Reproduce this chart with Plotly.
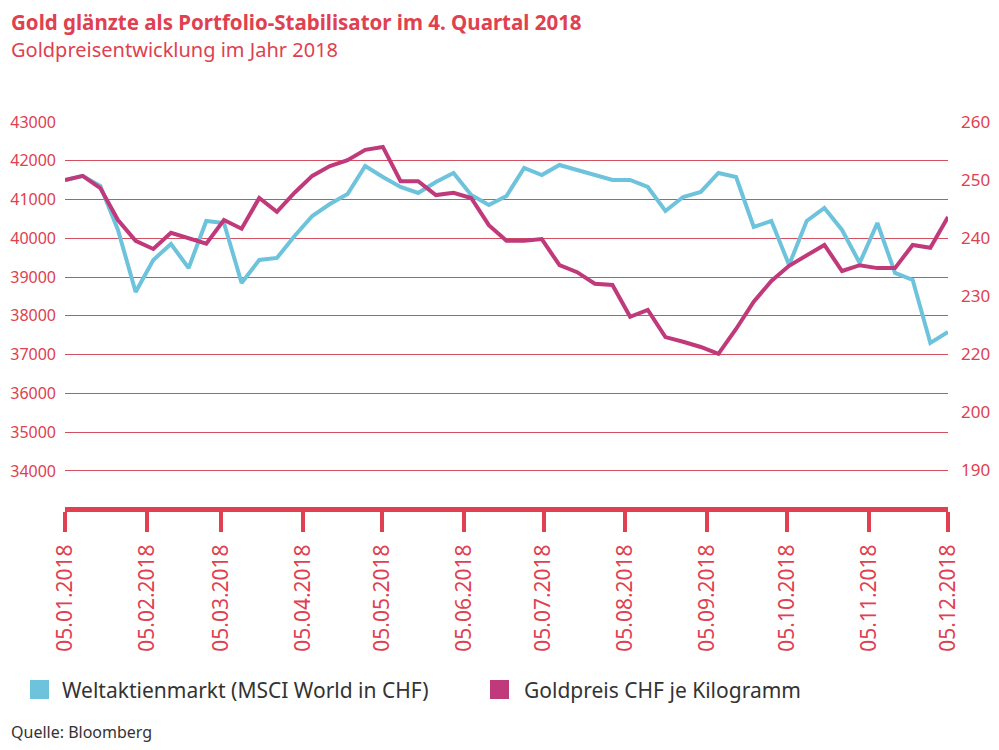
import plotly.graph_objects as go
import pandas as pd

msci = [41504,41607,41349,40215,38616,39441,39854,39235,40447,40395,
        38848,39441,39493,40060,40576,40885,41143,41865,41582,41324,
        41169,41453,41685,41117,40859,41092,41814,41633,41891,41762,
        41633,41504,41504,41324,40705,41066,41195,41685,41582,40292,
        40447,39312,40447,40782,40215,39364,40395,39106,38925,37300,37584]
gold = [250.0,250.7,248.6,243.1,239.5,238.1,240.9,240.0,239.0,243.1,
        241.6,246.9,244.5,247.8,250.7,252.4,253.4,255.2,255.7,249.8,
        249.8,247.4,247.8,246.9,242.2,239.5,239.5,239.8,235.3,234.1,
        232.1,231.9,226.4,227.6,222.9,222.1,221.2,220.0,224.3,229.0,
        232.6,235.2,237.1,238.8,234.3,235.3,234.8,234.8,238.8,238.3,243.6]
dates = pd.date_range("2018-01-05", "2018-12-05", periods=len(msci))
tick_dates = pd.date_range("2018-01-05", periods=12, freq=pd.DateOffset(months=1))
tick_text = [d.strftime("%d.%m.%Y") for d in tick_dates]
left_ticks = list(range(34000, 43001, 1000))
left_text = [str(v) for v in left_ticks]
right_vals = [260, 250, 240, 230, 220, 210, 200]
right_text = ["260", "250", "240", "230", "220", "200", "190"]
legend_names = ["Weltaktienmarkt (MSCI World in CHF)", "Goldpreis CHF je Kilogramm"]

RED = "#e0404f"
BLUE = "#6ec3dc"
MAG = "#c0397a"
F = "Noto Sans"

OFF = 8  # page body margin
FW, FH = 999 - 2 * OFF, 750 - 2 * OFF
L, T = 65 - OFF, 122 - OFF
R = FW - (948 - OFF)
B = FH - (507 - OFF)
H = FH - T - B
W = FW - L - R
def px(x): return (x - OFF - L) / W
def py(y): return (FH - B - (y - OFF)) / H

fig = go.Figure()
fig.add_trace(go.Scatter(x=dates, y=msci, mode="lines", line=dict(color=BLUE, width=4),
                         showlegend=False, yaxis="y"))
fig.add_trace(go.Scatter(x=dates, y=gold, mode="lines", line=dict(color=MAG, width=4),
                         showlegend=False, yaxis="y2"))

fig.update_layout(
    width=FW, height=FH, paper_bgcolor="white", plot_bgcolor="white",
    margin=dict(l=L, r=R, t=T, b=B, autoexpand=False),
    font=dict(family=F, color=RED, size=17),
    showlegend=False,
    xaxis=dict(range=[dates[0], dates[-1]], tickvals=tick_dates, ticktext=tick_text,
               tickangle=-90, showgrid=False, showline=True, linecolor=RED, linewidth=5,
               ticks="outside", ticklen=20, tickwidth=4, tickcolor=RED, automargin=False,
               tickfont=dict(size=21, color=RED), zeroline=False, ticklabelstandoff=4),
    yaxis=dict(range=[33070, 43000], tickvals=left_ticks, ticktext=left_text, showgrid=True,
               gridcolor="#d25060", gridwidth=1, zeroline=False, automargin=False,
               tickfont=dict(size=16, color=RED), ticks="", ticklabelstandoff=8),
    yaxis2=dict(range=[193.6, 260], overlaying="y", side="right", tickvals=right_vals,
                ticktext=right_text, showgrid=False, zeroline=False, automargin=False,
                tickfont=dict(size=17, color=RED), ticklabelstandoff=12),
)
ann = [
    dict(text="<b>Gold glänzte als Portfolio-Stabilisator im 4. Quartal 2018</b>", x=px(9), y=py(22),
         font=dict(size=20.5, color=RED)),
    dict(text="Goldpreisentwicklung im Jahr 2018", x=px(9), y=py(50), font=dict(size=20, color=RED)),
    dict(text="Quelle: Bloomberg", x=px(9), y=py(732), font=dict(size=16, color="#333333")),
    dict(text=legend_names[0], x=px(60), y=py(690), font=dict(size=21, color="#333333")),
    dict(text=legend_names[1], x=px(522), y=py(690), font=dict(size=21, color="#333333")),
]
for a in ann:
    fig.add_annotation(xref="paper", yref="paper", xanchor="left", yanchor="middle",
                       showarrow=False, **a)
for x0, c in [(30, BLUE), (490, MAG)]:
    fig.add_shape(type="rect", xref="paper", yref="paper", x0=px(x0), x1=px(x0 + 19),
                  y0=py(699), y1=py(680), fillcolor=c, line=dict(width=0))
fig.write_html("out.html")
